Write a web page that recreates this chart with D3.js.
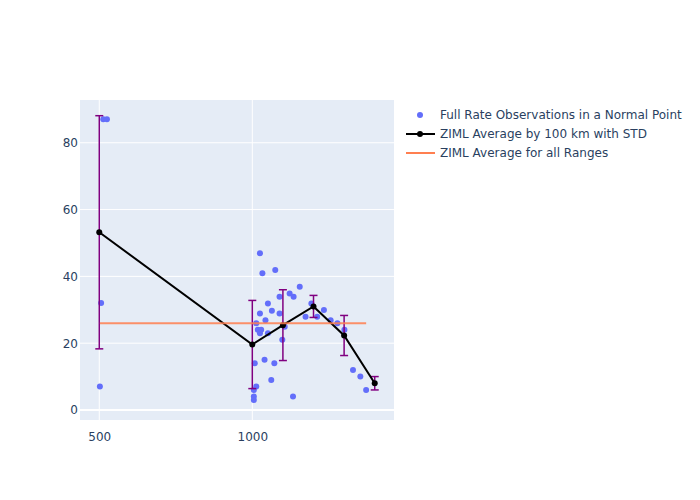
<!DOCTYPE html>
<html><head><meta charset="utf-8">
<script src="https://cdn.jsdelivr.net/npm/d3@7"></script>
<style>body{margin:0;background:#fff;}svg{display:block;font-family:"DejaVu Sans",sans-serif;}</style>
</head><body><svg id="c" width="700" height="500"></svg>
<script>
const obsX = [513, 525, 506, 502,
  1025, 1033, 1075, 1155, 1122, 1135, 1089, 1051, 1064, 1025, 1089, 1043, 1013,
  1018, 1029, 1025, 1051, 1106, 1098, 1008, 1040, 1072, 1062, 1013, 1005, 1005, 1005, 1133,
  1174, 1193, 1212, 1234, 1256, 1278, 1301, 1329, 1353, 1372];
const obsY = [87, 87, 32, 7,
  46.9, 40.9, 41.9, 36.9, 34.9, 33.9, 33.9, 31.9, 29.7, 28.9, 28.9, 26.9, 26.0,
  24.0, 24.0, 23.0, 23.0, 24.9, 21.0, 14.0, 15.0, 14.0, 9.0, 7.0, 6.0, 4.0, 3.0, 4.0,
  27.9, 31.9, 27.9, 29.9, 26.9, 26.0, 24.0, 12.0, 10.0, 6.0];
const avgX = [500, 1000, 1100, 1200, 1300, 1400];
const avgY = [53.2, 19.6, 25.4, 31.0, 22.3, 8.0];
const avgStd = [34.9, 13.2, 10.6, 3.3, 6.0, 2.0];
const overallMean = 26.0;
const xTicks = [500, 1000];
const yTicks = [0, 20, 40, 60, 80];
const legendLabels = ["Full Rate Observations in a Normal Point", "ZIML Average by 100 km with STD", "ZIML Average for all Ranges"];

const FONT = '"DejaVu Sans",sans-serif';
const svg = d3.select("#c");
const L = 80, R = 394, T = 100, B = 420;
const x = d3.scaleLinear().domain([437, 1463]).range([L, R]);
const y = d3.scaleLinear().domain([-3, 92.8]).range([B, T]);
const txt = "#2a3f5f";

svg.append("rect").attr("x", L).attr("y", T).attr("width", R - L).attr("height", B - T).attr("fill", "#e5ecf6");
const g = svg.append("g");
xTicks.forEach(t => g.append("line").attr("x1", x(t)).attr("x2", x(t)).attr("y1", T).attr("y2", B).attr("stroke", "#fff").attr("stroke-width", 1));
yTicks.forEach(t => g.append("line").attr("x1", L).attr("x2", R).attr("y1", y(t)).attr("y2", y(t)).attr("stroke", "#fff").attr("stroke-width", t === 0 ? 2 : 1));

const xa = svg.append("g").attr("transform", `translate(0,${B})`).call(d3.axisBottom(x).tickValues(xTicks).tickSize(0).tickPadding(12).tickFormat(d3.format("d")));
xa.select(".domain").remove();
xa.selectAll("text").attr("fill", txt).style("font-size", "12px").style("font-family", FONT);
const ya = svg.append("g").attr("transform", `translate(${L},0)`).call(d3.axisLeft(y).tickValues(yTicks).tickSize(0).tickPadding(2).tickFormat(d3.format("d")));
ya.select(".domain").remove();
ya.selectAll("text").attr("fill", txt).style("font-size", "12px").style("font-family", FONT);

svg.append("g").selectAll("circle").data(obsX.map((d, i) => [d, obsY[i]])).join("circle")
  .attr("cx", d => x(d[0])).attr("cy", d => y(d[1])).attr("r", 3).attr("fill", "#636efa");

const avg = avgX.map((d, i) => ({x: d, y: avgY[i], s: avgStd[i]}));
const eb = svg.append("g").attr("stroke", "#800080").attr("stroke-width", 1.5);
avg.forEach(d => {
  eb.append("line").attr("x1", x(d.x)).attr("x2", x(d.x)).attr("y1", y(d.y - d.s)).attr("y2", y(d.y + d.s));
  [d.y - d.s, d.y + d.s].forEach(v => eb.append("line").attr("x1", x(d.x) - 4).attr("x2", x(d.x) + 4).attr("y1", y(v)).attr("y2", y(v)));
});
svg.append("path").datum(avg).attr("fill", "none").attr("stroke", "#000").attr("stroke-width", 2)
  .attr("d", d3.line().x(d => x(d.x)).y(d => y(d.y)));
svg.append("g").selectAll("circle").data(avg).join("circle")
  .attr("cx", d => x(d.x)).attr("cy", d => y(d.y)).attr("r", 3).attr("fill", "#000");

svg.append("line").attr("x1", x(d3.min(obsX))).attr("x2", x(d3.max(obsX)))
  .attr("y1", y(overallMean)).attr("y2", y(overallMean)).attr("stroke", "#ff7f50").attr("stroke-width", 2).attr("opacity", 0.85);

const lg = svg.append("g");
const ly = [115, 134, 153];
lg.append("circle").attr("cx", 420).attr("cy", ly[0]).attr("r", 3).attr("fill", "#636efa");
lg.append("line").attr("x1", 406).attr("x2", 435).attr("y1", ly[1]).attr("y2", ly[1]).attr("stroke", "#000").attr("stroke-width", 2);
lg.append("circle").attr("cx", 420).attr("cy", ly[1]).attr("r", 3).attr("fill", "#000");
lg.append("line").attr("x1", 406).attr("x2", 435).attr("y1", ly[2]).attr("y2", ly[2]).attr("stroke", "#ff7f50").attr("stroke-width", 2);
legendLabels.forEach((t, i) => lg.append("text").attr("x", 440).attr("y", ly[i]).attr("dy", "0.35em")
  .attr("fill", txt).style("font-size", "12px").style("font-family", FONT).text(t));
</script></body></html>
